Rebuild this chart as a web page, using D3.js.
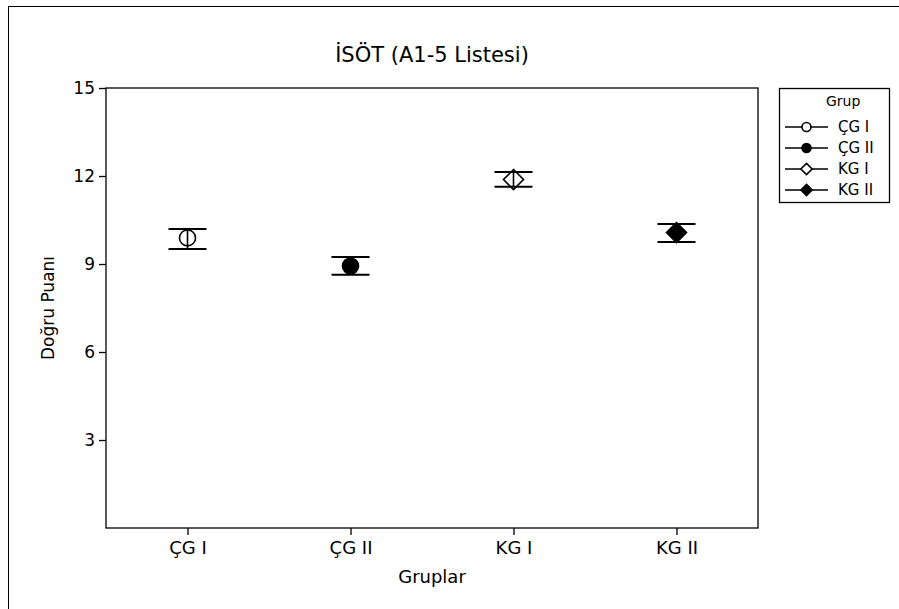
<!DOCTYPE html>
<html><head><meta charset="utf-8">
<script src="https://cdn.jsdelivr.net/npm/d3@7"></script>
<style>
body{margin:0;background:#fff;}
text{font-family:"DejaVu Sans",sans-serif;fill:#000;}
</style></head><body>
<svg id="c" width="899" height="609"></svg>
<script>
const categories = ["ÇG I","ÇG II","KG I","KG II"];
const means = [9.89, 8.93, 11.88, 10.07];
const upper = [10.19, 9.24, 12.14, 10.36];
const lower = [9.51, 8.63, 11.63, 9.75];
const markers = ["openCircle","filledCircle","openDiamond","filledDiamond"];
const yTicks = [3,6,9,12,15];
const legendTitle = "Grup";

const svg = d3.select("#c");
svg.append("rect").attr("x",8.5).attr("y",6.5).attr("width",1000).attr("height",1000)
  .attr("fill","none").attr("stroke","#000").attr("stroke-width",1);

const L=106,R=758,T=88,B=528;
const x = d3.scalePoint().domain(categories).range([L,R]).padding(0.5);
const y = d3.scaleLinear().domain([0,15]).range([B,T]);

svg.append("rect").attr("x",L).attr("y",T).attr("width",R-L).attr("height",B-T)
  .attr("fill","none").attr("stroke","#000").attr("stroke-width",1.3);

const yA = svg.append("g").attr("transform",`translate(${L},0)`)
  .call(d3.axisLeft(y).tickValues(yTicks).tickSize(7).tickPadding(4));
yA.select(".domain").remove();
yA.selectAll("text").style("font-size","17px");
yA.selectAll("line").attr("stroke-width",1.3);

const xA = svg.append("g").attr("transform",`translate(0,${B})`)
  .call(d3.axisBottom(x).tickSize(7).tickPadding(6));
xA.select(".domain").remove();
xA.selectAll("text").style("font-size","18px");
xA.selectAll("line").attr("stroke-width",1.3);

svg.append("text").attr("x",432).attr("y",62).attr("text-anchor","middle")
  .style("font-size","21px").text("İSÖT (A1-5 Listesi)");
svg.append("text").attr("x",432).attr("y",583).attr("text-anchor","middle")
  .style("font-size","18px").text("Gruplar");
svg.append("text").attr("transform","translate(54,308) rotate(-90)").attr("text-anchor","middle")
  .style("font-size","17px").text("Doğru Puanı");

function marker(g, type, cx, cy, s){
  if(type.includes("Circle")){
    g.append("circle").attr("cx",cx).attr("cy",cy).attr("r",s)
      .attr("fill",type.startsWith("filled")?"#000":"#fff").attr("stroke","#000").attr("stroke-width",1.6);
  } else {
    const d = s*1.25;
    g.append("path").attr("d",`M${cx},${cy-d}L${cx+d},${cy}L${cx},${cy+d}L${cx-d},${cy}Z`)
      .attr("fill",type.startsWith("filled")?"#000":"#fff").attr("stroke","#000").attr("stroke-width",1.6);
  }
}

const g = svg.append("g");
categories.forEach((c,i)=>{
  const cx = x(c);
  marker(g, markers[i], cx, y(means[i]), 8);
  g.append("line").attr("x1",cx).attr("x2",cx).attr("y1",y(upper[i])).attr("y2",y(lower[i]))
    .attr("stroke","#000").attr("stroke-width",1.6);
  [upper[i],lower[i]].forEach(v=>{
    g.append("line").attr("x1",cx-19).attr("x2",cx+19).attr("y1",y(v)).attr("y2",y(v))
      .attr("stroke","#000").attr("stroke-width",2);
  });
});

// legend
const lg = svg.append("g");
lg.append("rect").attr("x",779.5).attr("y",88.5).attr("width",110).attr("height",114)
  .attr("fill","#fff").attr("stroke","#000").attr("stroke-width",1.3);
lg.append("text").attr("x",826).attr("y",106).style("font-size","14px").text(legendTitle);
categories.forEach((c,i)=>{
  const ly = 127 + i*21;
  lg.append("line").attr("x1",785).attr("x2",828).attr("y1",ly).attr("y2",ly).attr("stroke","#000").attr("stroke-width",1.3);
  marker(lg, markers[i], 806.5, ly, 4.5);
  lg.append("text").attr("x",838).attr("y",ly+5).style("font-size","15px").text(c);
});
</script>
</body></html>
